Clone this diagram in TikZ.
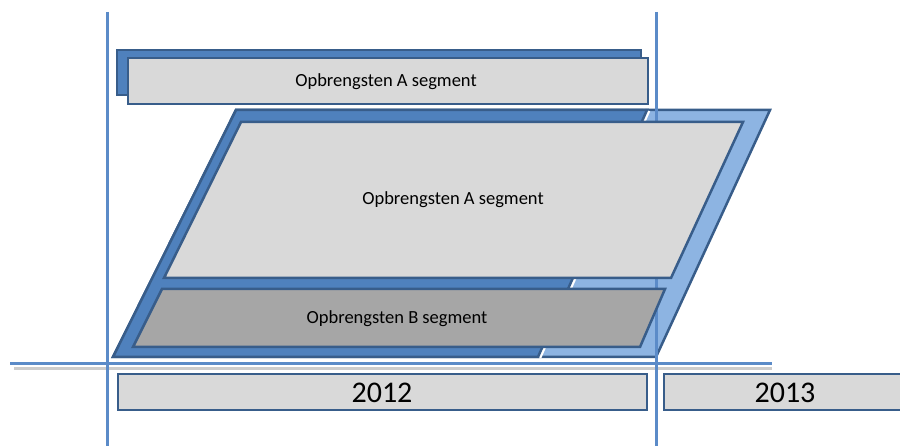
\documentclass[tikz,border=0pt]{standalone}
\usepackage{fontspec}
\setmainfont{Carlito}
\definecolor{lijnblauw}{HTML}{5B8BC8}
\definecolor{donkerblauw}{HTML}{4F81BD}
\definecolor{lichtblauw}{HTML}{8DB4E2}
\definecolor{randblauw}{HTML}{385D8A}
\definecolor{lichtgrijs}{HTML}{D9D9D9}
\definecolor{donkergrijs}{HTML}{A6A6A6}
\tikzset{
  vlak/.style={draw=randblauw, line width=2.5pt, line join=miter},
  as/.style={draw=lijnblauw, line width=3pt},
  tekst/.style={font=\fontsize{18.5}{20}\selectfont, inner sep=0pt},
  jaar/.style={font=\fontsize{30}{32}\selectfont, inner sep=0pt}
}
\begin{document}
\begin{tikzpicture}[x=1pt,y=-1pt]
	\useasboundingbox (0,0) rectangle (900,446);
	% bovenste balk
	\filldraw[vlak, fill=donkerblauw] (117,50) rectangle (641,95);
	\filldraw[vlak, fill=lichtgrijs] (128,58) rectangle (648,104);
	\node[tekst] (bovenA) at (386,82) {Opbrengsten A segment};
	% parallellogrammen
	\filldraw[vlak, fill=lichtblauw] (236,110) -- (770,110) -- (656,357) -- (113,357) -- cycle;
	\draw[white, line width=7pt] (647,110) -- (538,357);
	\filldraw[vlak, fill=donkerblauw] (236,110) -- (647,110) -- (538,357) -- (113,357) -- cycle;
	% assen
	\draw[black!20, line width=3pt] (14,369) -- (772,369);
	\draw[as] (10,364) -- (772,364);
	\draw[as] (107,12) -- (107,446);
	\draw[as] (656,12) -- (656,446);
	% segmenten
	\filldraw[vlak, fill=lichtgrijs] (241,122) -- (743,122) -- (671,278) -- (164,278) -- cycle;
	\node[tekst] (segA) at (453,200) {Opbrengsten A segment};
	\filldraw[vlak, fill=donkergrijs] (162,289) -- (665,289) -- (640,347) -- (133,347) -- cycle;
	\node[tekst] (segB) at (397,319) {Opbrengsten B segment};
	% jaren
	\filldraw[vlak, fill=lichtgrijs] (118,374) rectangle (647,410);
	\node[jaar] (j2012) at (382,393) {2012};
	\filldraw[vlak, fill=lichtgrijs] (664,374) rectangle (910,410);
	\node[jaar] (j2013) at (785,393) {2013};
\end{tikzpicture}
\end{document}
